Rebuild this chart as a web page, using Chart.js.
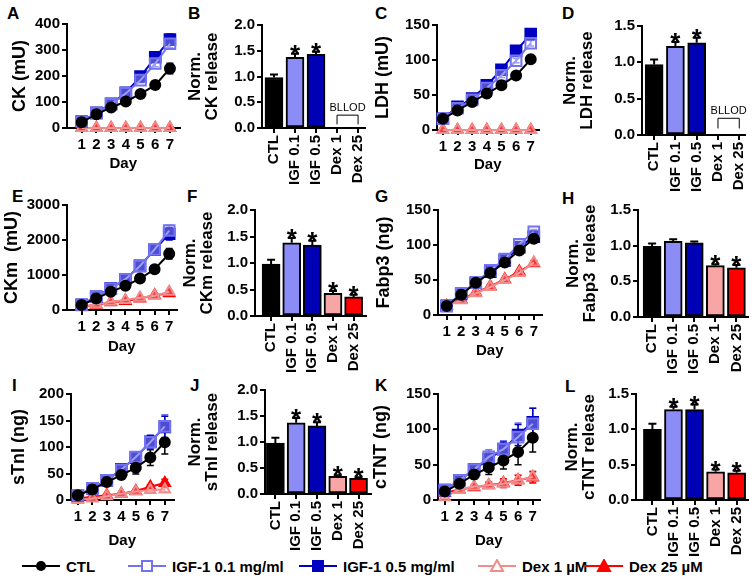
<!DOCTYPE html>
<html lang="en">
<head>
<meta charset="UTF-8">
<title>Release assays</title>
<script src="https://cdn.jsdelivr.net/npm/chart.js@4.4.1/dist/chart.umd.min.js"></script>
<style>
    body { margin: 0; width: 755px; height: 583px; position: relative; overflow: hidden; background: #fff;
           font-family: "Liberation Sans", Arial, sans-serif; }
    .letter { position: absolute; font-size: 17px; line-height: 17px; font-weight: bold; }
    .item { position: absolute; top: 558px; display: flex; align-items: center; height: 16px;
            font-size: 15px; font-weight: bold; white-space: nowrap; }
    .item svg { margin-right: 6px; }
</style>
</head>
<body>
<div class="letter" style="left:7px;top:5px">A</div>
<div class="letter" style="left:188px;top:5px">B</div>
<div class="letter" style="left:375px;top:5px">C</div>
<div class="letter" style="left:562px;top:5px">D</div>
<div class="letter" style="left:12px;top:188px">E</div>
<div class="letter" style="left:187px;top:188px">F</div>
<div class="letter" style="left:375px;top:188px">G</div>
<div class="letter" style="left:562px;top:190px">H</div>
<div class="letter" style="left:12px;top:377px">I</div>
<div class="letter" style="left:190px;top:377px">J</div>
<div class="letter" style="left:375px;top:377px">K</div>
<div class="letter" style="left:565px;top:378px">L</div>

<div class="item" style="left:22px">
    <svg width="38" height="14"><line x1="0" y1="7" x2="38" y2="7" stroke="#000" stroke-width="2"/><circle cx="19" cy="7" r="5" fill="#000"/></svg>CTL</div>
<div class="item" style="left:128px">
    <svg width="38" height="14"><line x1="0" y1="7" x2="38" y2="7" stroke="#7373f2" stroke-width="2"/><rect x="14" y="2" width="10" height="10" fill="#fff" stroke="#7373f2" stroke-width="2"/></svg>IGF-1 0.1 mg/ml</div>
<div class="item" style="left:299px">
    <svg width="38" height="14"><line x1="0" y1="7" x2="38" y2="7" stroke="#0000c0" stroke-width="2"/><rect x="14" y="2" width="10" height="10" fill="#0000c0" stroke="#0000c0" stroke-width="2"/></svg>IGF-1 0.5 mg/ml</div>
<div class="item" style="left:478px">
    <svg width="38" height="14"><line x1="0" y1="7" x2="38" y2="7" stroke="#f08c8c" stroke-width="2"/><polygon points="19,1 25,12 13,12" fill="#fff" stroke="#f08c8c" stroke-width="2"/></svg>Dex 1 µM</div>
<div class="item" style="left:585px">
    <svg width="38" height="14"><line x1="0" y1="7" x2="38" y2="7" stroke="#ff0000" stroke-width="2"/><polygon points="19,1 25,12 13,12" fill="#ff0000" stroke="#ff0000" stroke-width="2"/></svg>Dex 25 µM</div>

<script>
    // ---- data ----
    const days = [1, 2, 3, 4, 5, 6, 7];
    const groups = ['CTL', 'IGF 0.1', 'IGF 0.5', 'Dex 1', 'Dex 25'];
    const seriesNames = ['CTL', 'IGF-1 0.1 mg/ml', 'IGF-1 0.5 mg/ml', 'Dex 1 µM', 'Dex 25 µM'];

    // A: CK (mU), one row per series in seriesNames order
    const ckVals = [
        [22, 53, 79, 102, 131, 165, 229],
        [25, 57, 91, 133, 184, 248, 324],
        [25, 58, 93, 135, 198, 272, 340],
        [0, 0, 0, 0, 0, 0, 0],
        [0, 0, 0, 0, 0, 0, 0]
    ];
    const ckErr = [
        [4, 5, 6, 6, 8, 15, 20],
        [3, 4, 5, 7, 10, 12, 15],
        [3, 4, 5, 7, 10, 15, 22],
        [0, 0, 0, 0, 0, 0, 0],
        [0, 0, 0, 0, 0, 0, 0]
    ];
    // C: LDH (mU)
    const ldhVals = [
        [16, 28, 40, 52, 64, 78, 101],
        [16, 31, 43, 60, 78, 99, 124],
        [16, 33, 45, 64, 86, 113, 137],
        [0, 0, 0, 0, 0, 0, 0],
        [0, 0, 0, 0, 0, 0, 0]
    ];
    const ldhErr = [
        [1, 1, 2, 2, 2, 3, 4],
        [1, 2, 2, 2, 3, 3, 4],
        [1, 2, 2, 2, 3, 3, 4],
        [0, 0, 0, 0, 0, 0, 0],
        [0, 0, 0, 0, 0, 0, 0]
    ];
    // E: CKm (mU)
    const ckmVals = [
        [142, 331, 520, 690, 899, 1164, 1608],
        [142, 378, 615, 880, 1258, 1731, 2270],
        [150, 380, 620, 880, 1260, 1720, 2180],
        [95, 161, 236, 284, 350, 407, 520],
        [95, 150, 220, 260, 330, 420, 480]
    ];
    const ckmErr = [
        [20, 30, 40, 50, 60, 100, 150],
        [20, 30, 40, 60, 80, 100, 150],
        [20, 30, 40, 60, 80, 100, 180],
        [10, 20, 20, 25, 30, 30, 40],
        [10, 20, 20, 25, 30, 30, 40]
    ];
    // G: Fabp3 (ng)
    const fabpVals = [
        [13, 29, 46, 60, 75, 92, 109],
        [13, 31, 46, 64, 80, 101, 119],
        [13, 30, 46, 62, 78, 97, 112],
        [13, 21, 31, 40, 50, 60, 75],
        [13, 22, 32, 41, 51, 62, 74]
    ];
    const fabpErr = [
        [1, 2, 2, 2, 2, 3, 3],
        [1, 2, 2, 2, 3, 3, 3],
        [1, 2, 2, 2, 3, 3, 3],
        [1, 1, 2, 2, 2, 2, 3],
        [1, 1, 2, 2, 2, 2, 3]
    ];
    // I: sTnI (ng)
    const stniVals = [
        [9, 20, 34, 47, 61, 80, 109],
        [9, 22, 37, 57, 81, 109, 139],
        [9, 22, 37, 58, 80, 110, 138],
        [0, 3, 7, 12, 16, 19, 20],
        [3, 6, 9, 12, 17, 25, 32]
    ];
    const stniErr = [
        [2, 3, 5, 8, 12, 15, 22],
        [2, 3, 5, 6, 8, 12, 22],
        [2, 3, 5, 6, 8, 12, 20],
        [1, 1, 2, 2, 3, 3, 5],
        [1, 1, 2, 2, 3, 4, 7]
    ];
    // K: cTNT (ng)
    const ctntVals = [
        [12, 23, 36, 46, 56, 68, 88],
        [14, 28, 43, 61, 72, 89, 108],
        [14, 28, 43, 58, 72, 92, 110],
        [4, 15, 19, 21, 23, 28, 33],
        [10, 15, 18, 21, 24, 28, 32]
    ];
    const ctntErr = [
        [3, 4, 6, 10, 12, 18, 20],
        [3, 4, 6, 10, 12, 20, 22],
        [3, 4, 5, 8, 10, 15, 20],
        [2, 3, 3, 4, 6, 7, 8],
        [2, 3, 3, 4, 6, 7, 8]
    ];

    // normalised release (bars), null = below lower limit of detection
    const ckNorm = [0.98, 1.37, 1.43, null, null];
    const ckNormErr = [0.06, 0.07, 0.05, 0, 0];
    const ckStars = [false, true, true, false, false];
    const ldhNorm = [0.97, 1.22, 1.27, null, null];
    const ldhNormErr = [0.07, 0.06, 0.07, 0, 0];
    const ldhStars = [false, true, true, false, false];
    const ckmNorm = [0.98, 1.38, 1.34, 0.43, 0.36];
    const ckmNormErr = [0.08, 0.09, 0.08, 0.04, 0.04];
    const ckmStars = [false, true, true, true, true];
    const fabpNorm = [0.99, 1.06, 1.04, 0.72, 0.69];
    const fabpNormErr = [0.04, 0.03, 0.02, 0.02, 0.04];
    const fabpStars = [false, false, false, true, true];
    const stniNorm = [0.98, 1.37, 1.31, 0.34, 0.30];
    const stniNormErr = [0.10, 0.09, 0.07, 0.02, 0.02];
    const stniStars = [false, true, true, true, true];
    const ctntNorm = [1.0, 1.28, 1.28, 0.40, 0.385];
    const ctntNormErr = [0.08, 0.04, 0.07, 0.03, 0.03];
    const ctntStars = [false, true, true, true, true];

    // ---- styles ----
    const FONT = '"Liberation Sans", Arial, sans-serif';
    const lineColors = ['#000000', '#7373f2', '#0000c0', '#f08c8c', '#ff0000'];
    const pointFills = ['#000000', 'rgba(255,255,255,0.3)', '#0000c0', 'rgba(255,255,255,0.2)', '#ff0000'];
    const pointStyles = ['circle', 'rect', 'rect', 'triangle', 'triangle'];
    const pointSizes = [5, 7.5, 7.5, 6, 6];
    const barColors = ['#000000', '#8c8cf7', '#0000b4', '#f7a5a5', '#ff0000'];
    const tickFont = { family: FONT, size: 15, weight: 'bold', lineHeight: 1.2 };

    Chart.defaults.font.family = FONT;
    Chart.defaults.color = '#000';

    const errorBars = {
        id: 'errorBars',
        beforeDatasetsDraw(chart) {
            if (chart.config.type === 'line') draw(chart);
        },
        afterDatasetsDraw(chart) {
            if (chart.config.type === 'bar') draw(chart);
        }
    };
    function draw(chart) {
        const ctx = chart.ctx, ys = chart.scales.y, isBar = chart.config.type === 'bar';
        chart.data.datasets.forEach((ds, i) => {
            const meta = chart.getDatasetMeta(i);
            ctx.save();
            ctx.strokeStyle = isBar ? '#000' : ds.borderColor;
            ctx.lineWidth = isBar ? 2 : 1.5;
            meta.data.forEach((el, j) => {
                const v = ds.data[j].y, e = ds.errors[j];
                if (v == null || !e) return;
                const x = el.x, top = ys.getPixelForValue(v + e);
                const bot = isBar ? ys.getPixelForValue(v) : ys.getPixelForValue(v - e);
                const cap = isBar ? 4 : 3.5;
                ctx.beginPath();
                ctx.moveTo(x, bot); ctx.lineTo(x, top);
                ctx.moveTo(x - cap, top); ctx.lineTo(x + cap, top);
                if (!isBar) { ctx.moveTo(x - cap, bot); ctx.lineTo(x + cap, bot); }
                ctx.stroke();
                if (ds.stars && ds.stars[j]) {
                    ctx.fillStyle = '#000';
                    ctx.font = 'bold 26px ' + FONT;
                    ctx.textAlign = 'center';
                    ctx.textBaseline = 'alphabetic';
                    ctx.fillText('*', x, top + 9);
                }
            });
            ctx.restore();
        });
        const b = chart.options.plugins.bllod;
        if (isBar && b && b.show) {
            const xs = chart.scales.x;
            const x1 = xs.getPixelForValue(3), x2 = xs.getPixelForValue(4);
            const yb = ys.getPixelForValue(b.y), yl = ys.getPixelForValue(b.leg);
            ctx.save();
            ctx.strokeStyle = '#000'; ctx.lineWidth = 1;
            ctx.beginPath();
            ctx.moveTo(x1, yl); ctx.lineTo(x1, yb); ctx.lineTo(x2, yb); ctx.lineTo(x2, yl);
            ctx.stroke();
            ctx.fillStyle = '#000';
            ctx.font = '11px ' + FONT;
            ctx.textAlign = 'center';
            ctx.textBaseline = 'bottom';
            ctx.fillText('BLLOD', (x1 + x2) / 2, yb - 2);
            ctx.restore();
        }
    }

    function makeCanvas(left, top, w, h) {
        const c = document.createElement('canvas');
        c.width = w; c.height = h;
        c.style.cssText = 'position:absolute;left:' + left + 'px;top:' + top + 'px;width:' + w + 'px;height:' + h + 'px';
        document.body.appendChild(c);
        return c;
    }

    function yAxis(w, max, step, fmt, title, size, lh) {
        return {
            min: 0, max: max,
            afterFit: s => { s.width = w; },
            border: { color: '#000', width: 2 },
            grid: { drawOnChartArea: false, color: '#000', lineWidth: 2, tickLength: 5 },
            ticks: { stepSize: step, padding: 2, font: tickFont, color: '#000', callback: fmt },
            title: { display: true, text: title, color: '#000', padding: 0,
                     font: { family: FONT, size: size, weight: 'bold', lineHeight: lh } }
        };
    }

    // box: axisX, top, bottom, right, titleX, dayY
    function lineChart(box, vals, errs, yMax, yStep, xMin, xMax, title) {
        const left = Math.round(box.titleX - 10.8);
        const top = box.top - 10;
        const w = box.right - left + 6;
        const h = Math.round(box.dayY + 9) - top;
        const H = h - (box.bottom - top);
        const c = makeCanvas(left, top, w, h);
        const datasets = vals.map((row, i) => ({
            label: seriesNames[i],
            data: row.map((v, j) => ({ x: days[j], y: v })),
            errors: errs[i],
            borderColor: lineColors[i],
            backgroundColor: pointFills[i],
            pointBackgroundColor: pointFills[i],
            pointBorderColor: lineColors[i],
            pointStyle: pointStyles[i],
            pointRadius: pointSizes[i],
            pointBorderWidth: 2,
            borderWidth: 2,
            tension: 0,
            clip: false
        }));
        new Chart(c, {
            type: 'line',
            data: { datasets: datasets },
            options: {
                responsive: false, animation: false,
                layout: { padding: { top: 10, right: 6, left: 0, bottom: 0 } },
                plugins: { legend: { display: false }, tooltip: { enabled: false } },
                scales: {
                    x: {
                        type: 'linear', min: xMin, max: xMax,
                        afterBuildTicks: s => { s.ticks = days.map(d => ({ value: d })); },
                        afterFit: s => { s.height = H; },
                        border: { color: '#000', width: 2 },
                        grid: { drawOnChartArea: false, color: '#000', lineWidth: 2, tickLength: 5 },
                        ticks: { autoSkip: false, maxRotation: 0, padding: 3, font: tickFont, color: '#000' },
                        title: { display: true, text: 'Day', color: '#000', padding: 0,
                                 font: { family: FONT, size: 15, weight: 'bold', lineHeight: 1.2 } }
                    },
                    y: yAxis(box.axisX - left, yMax, yStep, v => String(v), title, 18, 1.2)
                }
            },
            plugins: [errorBars]
        });
    }

    function barChart(box, vals, errs, stars, yMax, xMin, xMax, title, bllod) {
        const left = Math.round(box.titleX - 8.5);
        const top = box.top - 10;
        const padR = 22;   // room for the rotated last label, so the plot keeps its width
        const w = box.right - left + padR;
        const H = 62;
        const h = box.bottom - top + H;
        const c = makeCanvas(left, top, w, h);
        new Chart(c, {
            type: 'bar',
            data: {
                datasets: [{
                    data: vals.map((v, i) => ({ x: i, y: v })),
                    errors: errs,
                    stars: stars,
                    backgroundColor: barColors,
                    borderColor: '#000',
                    borderWidth: 2,
                    borderSkipped: false,
                    barThickness: 18
                }]
            },
            options: {
                responsive: false, animation: false,
                layout: { padding: { top: 10, right: padR, left: 0, bottom: 0 } },
                plugins: { legend: { display: false }, tooltip: { enabled: false },
                           bllod: bllod || { show: false } },
                scales: {
                    x: {
                        type: 'linear', min: xMin, max: xMax, offset: false,
                        afterBuildTicks: s => { s.ticks = groups.map((g, i) => ({ value: i })); },
                        afterFit: s => { s.height = H; },
                        border: { color: '#000', width: 2 },
                        grid: { offset: false, drawOnChartArea: false, color: '#000', lineWidth: 2, tickLength: 5 },
                        ticks: { autoSkip: false, minRotation: 90, maxRotation: 90, padding: 2,
                                 font: tickFont, color: '#000', callback: v => groups[v] }
                    },
                    y: yAxis(box.axisX - left, yMax, 0.5, v => v.toFixed(1), title, 17, 1.0)
                }
            },
            plugins: [errorBars]
        });
    }

    lineChart({ axisX: 67, top: 23, bottom: 128, right: 183, titleX: 20, dayY: 164 },
        ckVals, ckErr, 400, 100, 0, 7.65, 'CK (mU)');
    barChart({ axisX: 262, top: 24, bottom: 128, right: 365, titleX: 195 },
        ckNorm, ckNormErr, ckStars, 2, -0.57, 4.33, ['Norm.', 'CK release'], { show: true, y: 0.25, leg: 0.07 });
    lineChart({ axisX: 437, top: 24, bottom: 130, right: 542, titleX: 383, dayY: 165 },
        ldhVals, ldhErr, 150, 50, 0.6, 7.53, 'LDH (mU)');
    barChart({ axisX: 642, top: 25, bottom: 135, right: 745, titleX: 570 },
        ldhNorm, ldhNormErr, ldhStars, 1.5, -0.57, 4.27, ['Norm.', 'LDH release'], { show: true, y: 0.23, leg: 0.09 });

    lineChart({ axisX: 67, top: 204, bottom: 310, right: 180, titleX: 12, dayY: 347 },
        ckmVals, ckmErr, 3000, 1000, 0, 7.5, 'CKm  (mU)');
    barChart({ axisX: 255, top: 209, bottom: 316, right: 366, titleX: 190 },
        ckmNorm, ckmNormErr, ckmStars, 2, -0.78, 4.6, ['Norm.', 'CKm release']);
    lineChart({ axisX: 438, top: 209, bottom: 315, right: 545, titleX: 384, dayY: 351 },
        fabpVals, fabpErr, 150, 50, 0.4, 7.53, 'Fabp3 (ng)');
    barChart({ axisX: 638, top: 209, bottom: 317, right: 748, titleX: 573 },
        fabpNorm, fabpNormErr, fabpStars, 1.5, -0.67, 4.55, ['Norm.', 'Fabp3  release']);

    lineChart({ axisX: 71, top: 393, bottom: 500, right: 177, titleX: 19, dayY: 541 },
        stniVals, stniErr, 200, 50, 0.53, 7.6, 'sTnI (ng)');
    barChart({ axisX: 265, top: 389, bottom: 494, right: 371, titleX: 195 },
        stniNorm, stniNormErr, stniStars, 2, -0.5, 4.6, ['Norm.', 'sTnI release']);
    lineChart({ axisX: 438, top: 393, bottom: 500, right: 543, titleX: 381, dayY: 541 },
        ctntVals, ctntErr, 150, 50, 0.54, 7.46, 'cTNT (ng)');
    barChart({ axisX: 636, top: 393, bottom: 500, right: 748, titleX: 572 },
        ctntNorm, ctntNormErr, ctntStars, 1.5, -0.78, 4.54, ['Norm.', 'cTNT release']);
</script>
</body>
</html>
